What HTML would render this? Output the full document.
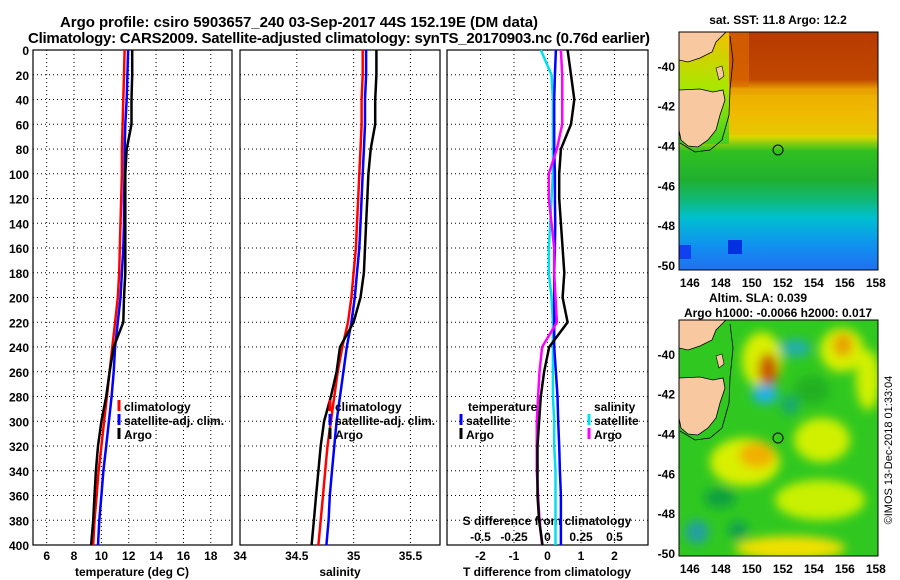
<!DOCTYPE html>
<html><head><meta charset="utf-8"><style>
html,body{margin:0;padding:0;background:#fff;}
svg{display:block;font-family:"Liberation Sans",Arial,sans-serif;font-weight:bold;}
</style></head><body>
<svg id="fig" width="900" height="580" viewBox="0 0 900 580" xmlns="http://www.w3.org/2000/svg">
<defs>
<linearGradient id="sstGrad" x1="0" y1="0" x2="0" y2="1">
<stop offset="0" stop-color="#b83a00"/><stop offset="0.2" stop-color="#c04800"/><stop offset="0.24" stop-color="#e8a000"/><stop offset="0.35" stop-color="#f0c000"/><stop offset="0.44" stop-color="#d8d800"/><stop offset="0.5" stop-color="#30c020"/><stop offset="0.62" stop-color="#20b030"/><stop offset="0.7" stop-color="#10b870"/><stop offset="0.78" stop-color="#00c0d0"/><stop offset="0.9" stop-color="#1090f0"/><stop offset="1" stop-color="#2070f0"/>
</linearGradient>
<linearGradient id="sstWest" x1="0" y1="0" x2="0" y2="1">
<stop offset="0" stop-color="#f0c000"/><stop offset="0.5" stop-color="#a8e800"/><stop offset="1" stop-color="#40d020"/>
</linearGradient>
<filter id="blur8"><feGaussianBlur stdDeviation="5"/></filter>
<clipPath id="clipSST"><rect x="679" y="32" width="199" height="238"/></clipPath>
<clipPath id="clipSLA"><rect x="679" y="320" width="199" height="236"/></clipPath>
</defs>

<text x="60" y="27" textLength="478" font-size="15">Argo profile: csiro 5903657_240 03-Sep-2017 44S 152.19E (DM data)</text>
<text x="28" y="43" textLength="622" font-size="15">Climatology: CARS2009. Satellite-adjusted climatology: synTS_20170903.nc (0.76d earlier)</text>

<g id="axes"></g>

<!-- SST map -->
<g>
<g clip-path="url(#clipSST)">
<rect x="679" y="32" width="199" height="238" fill="url(#sstGrad)"/>
<rect x="679" y="32" width="50" height="112" fill="url(#sstWest)"/>
<rect x="729" y="95" width="149" height="40" fill="#f0b800" opacity="0.5"/>
<rect x="729" y="32" width="20" height="55" fill="#e07000" opacity="0.6"/>
<rect x="728" y="240" width="14" height="14" fill="#0030e0"/>
<rect x="679" y="245" width="12" height="14" fill="#1040f0"/>
<polygon points="679,32 726,32 716,42 712,52 700,58 688,62 679,60" fill="#f8c8a0" stroke="#000" stroke-width="0.8"/>
<polygon points="679,90 700,89 713,92 723,90 725,100 720,115 716,130 708,140 698,147 688,146 681,140 679,130" fill="#f8c8a0" stroke="#000" stroke-width="0.8"/>
<polygon points="716,68 722,66 724,76 719,80" fill="#f8c8a0" stroke="#000" stroke-width="0.6"/>
<path d="M730,36 L733,60 L730,90 L729,115 L722,140 L710,150 L695,152 L680,143" fill="none" stroke="#000" stroke-width="0.8"/>
<circle cx="778" cy="150" r="5" fill="none" stroke="#000" stroke-width="1"/>
</g>
<rect x="679" y="32" width="199" height="238" fill="none" stroke="#000" stroke-width="1"/>
</g>
<text x="778" y="24" text-anchor="middle" font-size="12">sat. SST: 11.8 Argo: 12.2</text>

<!-- SLA map -->
<g>
<g clip-path="url(#clipSLA)">
<rect x="679" y="320" width="199" height="236" fill="#30c820"/>
<g filter="url(#blur8)">
<ellipse cx="762" cy="360" rx="20" ry="28" fill="#d8f000"/>
<ellipse cx="842" cy="350" rx="22" ry="22" fill="#d8f000"/>
<ellipse cx="745" cy="462" rx="35" ry="24" fill="#d8f000"/>
<ellipse cx="822" cy="440" rx="28" ry="22" fill="#d0f000"/>
<ellipse cx="868" cy="380" rx="12" ry="30" fill="#d0f000"/>
<ellipse cx="820" cy="500" rx="45" ry="20" fill="#c8f000"/>
<ellipse cx="790" cy="548" rx="55" ry="12" fill="#f0e000"/>
<ellipse cx="768" cy="370" rx="10" ry="17" fill="#c85800"/>
<ellipse cx="765" cy="394" rx="13" ry="10" fill="#20b0e0"/>
<ellipse cx="795" cy="348" rx="16" ry="9" fill="#20b0a8"/>
<ellipse cx="843" cy="345" rx="10" ry="12" fill="#e8a000"/>
<ellipse cx="757" cy="455" rx="18" ry="13" fill="#f0b000"/>
<ellipse cx="697" cy="532" rx="12" ry="12" fill="#20a0a0"/>
<ellipse cx="738" cy="530" rx="10" ry="9" fill="#10a050"/>
<ellipse cx="720" cy="498" rx="16" ry="10" fill="#10a040"/>
<ellipse cx="790" cy="405" rx="9" ry="10" fill="#18a870"/>
<ellipse cx="812" cy="390" rx="18" ry="14" fill="#20b020"/>
</g>
<polygon points="679,320 726,320 716,330 712,340 700,346 688,350 679,348" fill="#f8c8a0" stroke="#000" stroke-width="0.8"/>
<polygon points="679,378 700,377 713,380 723,378 725,388 720,403 716,418 708,428 698,435 688,434 681,428 679,418" fill="#f8c8a0" stroke="#000" stroke-width="0.8"/>
<polygon points="716,356 722,354 724,364 719,368" fill="#f8c8a0" stroke="#000" stroke-width="0.6"/>
<path d="M730,324 L733,348 L730,378 L729,403 L722,428 L710,438 L695,440 L680,431" fill="none" stroke="#000" stroke-width="0.8"/>
<circle cx="778" cy="438" r="5" fill="none" stroke="#000" stroke-width="1"/>
</g>
<rect x="679" y="320" width="199" height="236" fill="none" stroke="#000" stroke-width="1"/>
</g>
<text x="758" y="302" text-anchor="middle" font-size="12">Altim. SLA: 0.039</text>
<text x="778" y="317" text-anchor="middle" font-size="12">Argo h1000: -0.0066 h2000: 0.017</text>
<text transform="translate(892,450) rotate(-90)" text-anchor="middle" font-size="11" font-weight="normal">©IMOS 13-Dec-2018 01:33:04</text>

<script>
// ---- data ----
const depths = [0,20,40,60,80,100,120,140,160,180,200,220,240,260,280,300,320,340,360,380,400];
const tempClim = [11.7,11.65,11.6,11.55,11.5,11.5,11.45,11.4,11.35,11.3,11.2,11.0,10.8,10.6,10.4,10.2,10.0,9.8,9.65,9.5,9.4];
const tempSat = [11.95,11.9,11.85,11.75,11.7,11.7,11.65,11.65,11.6,11.5,11.4,11.2,11.0,10.9,10.75,10.55,10.35,10.15,10.0,9.85,9.75];
const tempArgo = [12.25,12.25,12.2,12.2,11.85,11.75,11.75,11.75,11.75,11.75,11.65,11.6,10.9,10.6,10.35,10.0,9.75,9.6,9.5,9.4,9.25];
const salClim = [35.08,35.08,35.07,35.07,35.06,35.05,35.04,35.03,35.02,35.0,34.98,34.95,34.9,34.86,34.83,34.8,34.77,34.75,34.73,34.71,34.69];
const salSat = [35.11,35.11,35.1,35.1,35.09,35.08,35.07,35.06,35.05,35.03,35.01,34.98,34.94,34.91,34.88,34.85,34.83,34.81,34.79,34.78,34.76];
const salArgo = [35.2,35.2,35.19,35.19,35.15,35.13,35.12,35.11,35.1,35.09,35.06,35.0,34.88,34.85,34.8,34.74,34.71,34.69,34.67,34.65,34.63];
const tDiffSat = [0.25,0.22,0.2,0.2,0.2,0.22,0.22,0.23,0.22,0.2,0.2,0.2,0.2,0.25,0.3,0.32,0.35,0.37,0.4,0.4,0.4];
const tDiffArgo = [0.6,0.7,0.8,0.7,0.4,0.35,0.35,0.4,0.45,0.5,0.45,0.6,0.05,-0.1,-0.2,-0.25,-0.3,-0.3,-0.3,-0.25,-0.15];
const sDiffSat = [-0.05,0.03,0.04,0.04,0.04,0.04,0.03,0.02,0.01,0.01,0.03,0.04,0.04,0.04,0.04,0.05,0.05,0.06,0.06,0.06,0.06];
const sDiffArgo = [0.1,0.11,0.11,0.11,0.07,0.01,0.01,0.03,0.05,0.05,0.06,0.07,-0.04,-0.06,-0.07,-0.08,-0.08,-0.08,-0.07,-0.06,-0.04];
const depthTicks = [0,20,40,60,80,100,120,140,160,180,200,220,240,260,280,300,320,340,360,380,400];
const tempTicks = [6,8,10,12,14,16,18];
const salTicks = [34,34.5,35,35.5];
const tdiffTicks = [-2,-1,0,1,2];
const sdiffTicks = [-0.5,-0.25,0,0.25,0.5];
const latTicks = [-40,-42,-44,-46,-48,-50];
const lonTicks = [146,148,150,152,154,156,158];

const NS = "http://www.w3.org/2000/svg";
const root = document.getElementById('axes');
function mk(tag, attrs, parent){const e=document.createElementNS(NS,tag);for(const k in attrs)e.setAttribute(k,attrs[k]);(parent||root).appendChild(e);return e;}
const Y0=50, Y1=545;
function yD(d){return Y0+(d-0)/400*(Y1-Y0);}
const P1={x0:33,x1:232,min:5,max:19.55};
const P2={x0:240,x1:440,min:34,max:35.76};
const P3={x0:447,x1:648,min:-3,max:3};
function xs(p,v){return p.x0+(v-p.min)/(p.max-p.min)*(p.x1-p.x0);}

function panel(p, xticks, name){
  const g=mk('g',{});
  
  
  xticks.forEach(t=>{const x=xs(p,t);mk('line',{x1:x,x2:x,y1:Y0,y2:Y1,stroke:'#000','stroke-width':1,'stroke-dasharray':'1,3'},g);});
  depthTicks.forEach(t=>{const y=yD(t);mk('line',{x1:p.x0,x2:p.x1,y1:y,y2:y,stroke:'#000','stroke-width':1,'stroke-dasharray':'1,3'},g);});
  mk('rect',{x:p.x0,y:Y0,width:p.x1-p.x0,height:Y1-Y0,fill:'none',stroke:'#000','stroke-width':1.2},g);
  return g;
}
function line(p, vals, color, name, scale){
  const pts=vals.map((v,i)=>xs(p,v*(scale||1)).toFixed(1)+','+yD(depths[i]).toFixed(1)).join(' ');
  const l=mk('polyline',{points:pts,fill:'none',stroke:color,'stroke-width':2.5});
  
  
}
function txt(x,y,s,opts){const t=mk('text',Object.assign({x:x,y:y,'font-size':12},opts||{}));t.textContent=s;return t;}

const g1=panel(P1,tempTicks,'temperature-panel');
const g2=panel(P2,salTicks,'salinity-panel');
const g3=panel(P3,tdiffTicks,'difference-panel');
depthTicks.forEach(t=>{const e=txt(29,yD(t)+5,String(t),{'text-anchor':'end'});});
tempTicks.forEach(t=>{const e=txt(xs(P1,t),560,String(t),{'text-anchor':'middle'});});
salTicks.forEach(t=>{const e=txt(xs(P2,t),560,String(t),{'text-anchor':'middle'});});
tdiffTicks.forEach(t=>{const e=txt(xs(P3,t),560,String(t),{'text-anchor':'middle'});});
sdiffTicks.forEach(t=>{const e=txt(xs(P3,t*4),541,String(t),{'text-anchor':'middle'});});
let e;
e=txt(132,576,'temperature (deg C)',{'text-anchor':'middle'});
e=txt(340,576,'salinity',{'text-anchor':'middle'});
e=txt(547,576,'T difference from climatology',{'text-anchor':'middle'});
e=txt(547,525,'S difference from climatology',{'text-anchor':'middle'});

line(P1,tempClim,'#ff0000','temp-climatology-line');
line(P1,tempSat,'#0000ff','temp-satellite-line');
line(P1,tempArgo,'#000000','temp-argo-line');
line(P2,salClim,'#ff0000','sal-climatology-line');
line(P2,salSat,'#0000ff','sal-satellite-line');
line(P2,salArgo,'#000000','sal-argo-line');
line(P3,sDiffSat,'#00e0f0','sdiff-satellite-line',4);
line(P3,tDiffSat,'#0000ff','tdiff-satellite-line');
line(P3,sDiffArgo,'#ff00ff','sdiff-argo-line',4);
line(P3,tDiffArgo,'#000000','tdiff-argo-line');

function legend(x,y,color,label,name){
  const g=mk('g',{});
  
  
  mk('line',{x1:x,x2:x,y1:y-11,y2:y,stroke:color,'stroke-width':3},g);
  const t=mk('text',{x:x+5,y:y,'font-size':12},g);t.textContent=label;
}
legend(119,411,'#ff0000','climatology','legend-temp-climatology');
legend(119,425,'#0000ff','satellite-adj. clim.','legend-temp-satellite');
legend(119,439,'#000000','Argo','legend-temp-argo');
legend(330,411,'#ff0000','climatology','legend-sal-climatology');
legend(330,425,'#0000ff','satellite-adj. clim.','legend-sal-satellite');
legend(330,439,'#000000','Argo','legend-sal-argo');
e=txt(468,411,'temperature');
e=txt(594,411,'salinity');
legend(461,425,'#0000ff','satellite','legend-tdiff-satellite');
legend(461,439,'#000000','Argo','legend-tdiff-argo');
legend(589,425,'#00e0f0','satellite','legend-sdiff-satellite');
legend(589,439,'#ff00ff','Argo','legend-sdiff-argo');

function mapTicks(yTop,yBot,latTop,latBot,name){
  const latY=l=>yTop+(latTop-l)/(latTop-latBot)*(yBot-yTop);
  latTicks.forEach(l=>{const y=latY(l);mk('line',{x1:679,x2:683,y1:y,y2:y,stroke:'#000'});mk('line',{x1:874,x2:878,y1:y,y2:y,stroke:'#000'});
    const t=txt(675,y+5,String(l),{'text-anchor':'end'});});
  const lonX=l=>679+(l-145.3)/(158.14-145.3)*199;
  lonTicks.forEach(l=>{const x=lonX(l);mk('line',{x1:x,x2:x,y1:yBot,y2:yBot-4,stroke:'#000'});
    const t=txt(x,yBot+17,String(l),{'text-anchor':'middle'});});
}
mapTicks(32,270,-38.3,-50.25,'sst-map');
mapTicks(320,556,-38.3,-50.15,'sla-map');
</script>
</svg>
</body></html>
